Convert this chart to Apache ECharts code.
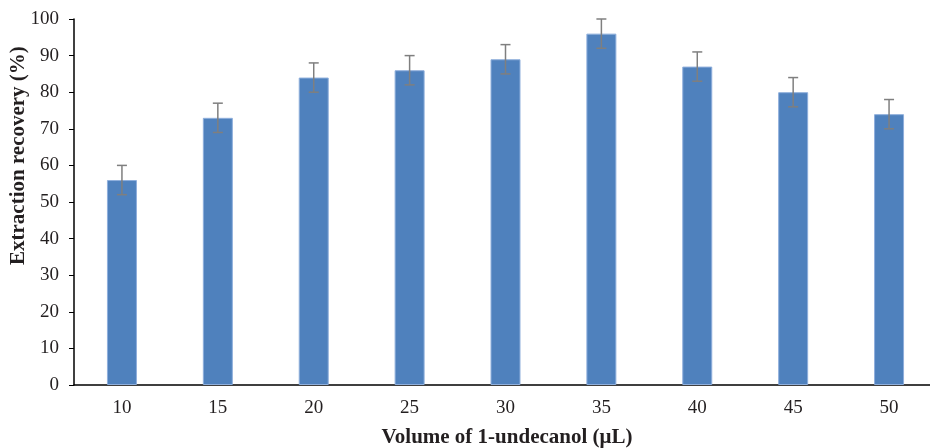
<!DOCTYPE html>
<html>
<head>
<meta charset="utf-8">
<script src="https://cdn.jsdelivr.net/npm/echarts@6/dist/echarts.min.js"></script>
<style>html,body{margin:0;padding:0;background:#fff;}#c{width:930px;height:448px;}</style>
</head>
<body>
<div id="c"></div>
<script>
var categories = ['10', '15', '20', '25', '30', '35', '40', '45', '50'];
var recovery = [56, 73, 84, 86, 89, 96, 87, 80, 74];
var errLow = [52, 69, 80, 82, 85, 92, 83, 76, 70];
var errHigh = [60, 77, 88, 90, 93, 100, 91, 84, 78];
var yTicks = [0, 10, 20, 30, 40, 50, 60, 70, 80, 90, 100];

var font = '"Liberation Serif", "Times New Roman", serif';
var chart = echarts.init(document.getElementById('c'));
var errData = categories.map(function (c, i) { return [i, errLow[i], errHigh[i]]; });

chart.setOption({
  animation: false,
  grid: { left: 74, top: 19, width: 863, height: 366, outerBoundsMode: 'none', containLabel: false },
  xAxis: {
    type: 'category',
    data: categories,
    axisLine: { lineStyle: { color: '#000', width: 1.5 } },
    axisTick: { alignWithLabel: true, length: 5, lineStyle: { color: '#000' } },
    axisLabel: { color: '#231F20', fontFamily: font, fontSize: 19, margin: 14 }
  },
  yAxis: {
    type: 'value',
    min: yTicks[0],
    max: yTicks[yTicks.length - 1],
    interval: 10,
    axisLine: { show: true, lineStyle: { color: '#000', width: 1.5 } },
    axisTick: { show: true, length: 5, lineStyle: { color: '#000' } },
    splitLine: { show: false },
    axisLabel: { color: '#231F20', fontFamily: font, fontSize: 19, margin: 15 }
  },
  graphic: [
    {
      type: 'text', x: 19, y: 265,
      rotation: Math.PI / 2,
      style: { text: 'Extraction recovery (%)', font: 'bold 21px ' + font, fill: '#231F20', align: 'left', verticalAlign: 'middle' }
    },
    {
      type: 'text', x: 507, y: 438,
      style: { text: 'Volume of 1-undecanol (μL)', font: 'bold 21px ' + font, fill: '#231F20', align: 'center', verticalAlign: 'middle' }
    }
  ],
  series: [
    {
      type: 'bar',
      data: recovery,
      barWidth: 30,
      itemStyle: { color: '#4F81BD', borderColor: '#8FAFDC', borderWidth: 1 }
    },
    {
      type: 'custom',
      data: errData,
      z: 10,
      renderItem: function (params, api) {
        var x = api.value(0);
        var lo = api.coord([x, api.value(1)]);
        var hi = api.coord([x, api.value(2)]);
        var w = 5;
        var st = { stroke: '#7F7F7F', lineWidth: 1.5 };
        return {
          type: 'group',
          children: [
            { type: 'line', shape: { x1: lo[0], y1: lo[1], x2: hi[0], y2: hi[1] }, style: st },
            { type: 'line', shape: { x1: lo[0] - w, y1: lo[1], x2: lo[0] + w, y2: lo[1] }, style: st },
            { type: 'line', shape: { x1: hi[0] - w, y1: hi[1], x2: hi[0] + w, y2: hi[1] }, style: st }
          ]
        };
      }
    }
  ]
});
</script>
</body>
</html>
